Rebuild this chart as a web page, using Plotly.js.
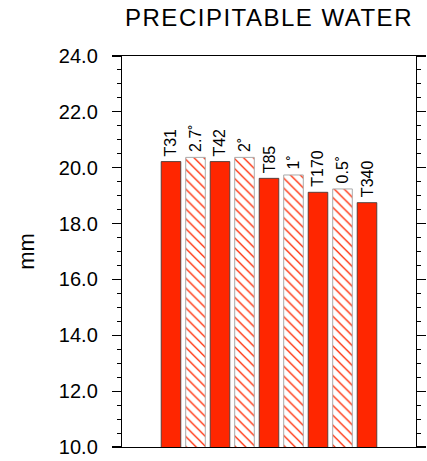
<!DOCTYPE html>
<html>
<head>
<meta charset="utf-8">
<script src="https://cdn.plot.ly/plotly-3.0.1.min.js"></script>
<style>
html,body{margin:0;padding:0;background:#fff;}
#chart{width:427px;height:461px;}
#chart .gtitle{letter-spacing:1.5px;}
</style>
</head>
<body>
<div id="chart"></div>
<script>
const labels = ["T31", "2.7˚", "T42", "2˚", "T85", "1˚", "T170", "0.5˚", "T340"];
const values = [20.22, 20.37, 20.22, 20.37, 19.62, 19.74, 19.12, 19.24, 18.75];
const kinds = ["spectral", "fv", "spectral", "fv", "spectral", "fv", "spectral", "fv", "spectral"];

const positions = labels.map((_, i) => i + 1);
const solidX = [], solidY = [], hatchX = [], hatchY = [];
positions.forEach((p, i) => {
  if (kinds[i] === "spectral") { solidX.push(p); solidY.push(values[i]); }
  else { hatchX.push(p); hatchY.push(values[i]); }
});

const FONT = "Liberation Sans, Arial, sans-serif";
const red = "rgb(255,38,0)";
const traces = [
  {type: "bar", x: solidX, y: solidY, width: 0.8, base: 0,
   marker: {color: red, line: {color: "#333", width: 0.8}}, hoverinfo: "none"},
  {type: "bar", x: hatchX, y: hatchY, width: 0.8, base: 0,
   marker: {color: "white", line: {color: "#aaa", width: 1},
            pattern: {shape: "\\", fgcolor: red, bgcolor: "white", size: 7, solidity: 0.18}},
   hoverinfo: "none"}
];

const annotations = positions.map((p, i) => ({
  x: p, y: values[i], xref: "x", yref: "y", text: labels[i],
  showarrow: false, textangle: -90, xanchor: "center", yanchor: "bottom", yshift: 3,
  font: {family: FONT, size: 16, color: "#000"}
}));

const layout = {
  width: 427, height: 461,
  margin: {l: 122, r: 11, t: 56, b: 14},
  paper_bgcolor: "white", plot_bgcolor: "white",
  showlegend: false, barmode: "overlay",
  title: {text: "PRECIPITABLE WATER", x: 0.63, xanchor: "center", y: 0.962, yanchor: "middle",
          font: {family: FONT, size: 24, color: "#000"}},
  xaxis: {range: [-1, 11], showgrid: false, zeroline: false, showticklabels: false,
          ticks: "", showline: true, linecolor: "#000", linewidth: 1.2, mirror: true},
  yaxis: {range: [10, 24], dtick: 2, tick0: 10, tickformat: ".1f", showgrid: false, zeroline: false,
          ticks: "outside", ticklen: 9, tickwidth: 1.2, tickcolor: "#000", ticklabelstandoff: 10,
          showline: true, linecolor: "#000", linewidth: 1.2, mirror: "ticks",
          minor: {dtick: 0.5, ticks: "outside", ticklen: 4, tickwidth: 1, tickcolor: "#000"},
          tickfont: {family: FONT, size: 20, color: "#000"},
          title: {text: "mm", standoff: 18, font: {family: FONT, size: 22, color: "#000"}}},
  annotations: annotations
};

Plotly.newPlot("chart", traces, layout, {staticPlot: true, displayModeBar: false});
</script>
</body>
</html>
